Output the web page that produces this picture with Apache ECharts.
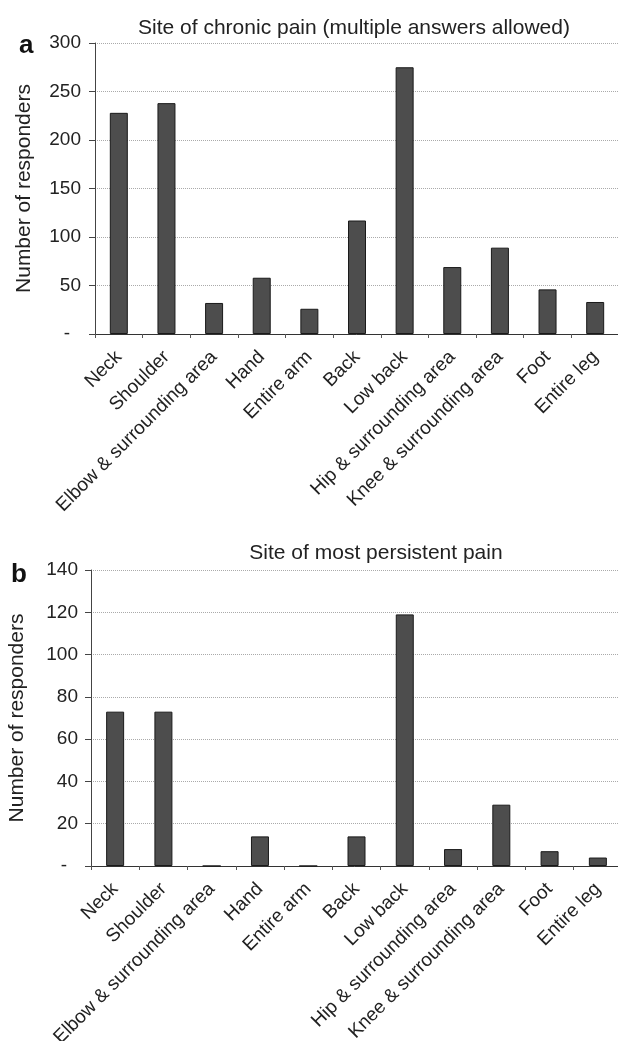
<!DOCTYPE html>
<html>
<head>
<meta charset="utf-8">
<script src="https://cdn.jsdelivr.net/npm/echarts@6/dist/echarts.min.js"></script>
<style>
  html, body { margin: 0; padding: 0; background: #fff; }
  #main { width: 618px; height: 1041px; }
</style>
</head>
<body>
<div id="main"></div>
<script>
var sites = ['Neck', 'Shoulder', 'Elbow & surrounding area', 'Hand', 'Entire arm', 'Back',
  'Low back', 'Hip & surrounding area', 'Knee & surrounding area', 'Foot', 'Entire leg'];
// panel a: multiple answers allowed
var chronicCounts = [228, 238, 32, 58, 26, 117, 275, 69, 89, 46, 33];
// panel b: site of most persistent pain
var persistentCounts = [73, 73, 0, 14, 0, 14, 119, 8, 29, 7, 4];
var chronicTicks = [0, 300, 50];     // min, max, interval
var persistentTicks = [0, 140, 20];

var font = 'Liberation Sans, Arial, sans-serif';
var myChart = echarts.init(document.getElementById('main'), null, { renderer: 'canvas' });

function xAxisFor(idx) {
  return {
    type: 'category',
    gridIndex: idx,
    data: sites,
    axisLine: { lineStyle: { color: '#333', width: 1 } },
    axisTick: { show: true, alignWithLabel: false, length: 4, lineStyle: { color: '#555' } },
    axisLabel: {
      interval: 0,
      rotate: 45,
      margin: 20,
      fontSize: 19,
      color: '#222',
      fontFamily: font
    }
  };
}

function yAxisFor(idx, ticks, gap, labelGap) {
  return {
    type: 'value',
    gridIndex: idx,
    min: ticks[0],
    max: ticks[1],
    interval: ticks[2],
    name: 'Number of responders',
    nameLocation: 'middle',
    nameGap: gap,
    nameTextStyle: { fontSize: 21, color: '#222', fontFamily: font },
    axisLine: { show: true, lineStyle: { color: '#444', width: 1 } },
    axisTick: { show: true, length: 6, lineStyle: { color: '#444' } },
    axisLabel: {
      fontSize: 19,
      color: '#222',
      margin: labelGap,
      fontFamily: font,
      formatter: function (v) { return v === 0 ? '{z|-}' : v; },
      rich: { z: { fontSize: 19, color: '#222', fontFamily: font, padding: [0, 11, 0, 0] } }
    },
    splitLine: { show: true, lineStyle: { color: '#aaa', type: 'dotted', width: 1 } }
  };
}

var barStyle = { color: '#4d4d4d', borderColor: '#1a1a1a', borderWidth: 1 };

var option = {
  backgroundColor: '#fff',
  animation: false,
  title: [
    {
      text: 'Site of chronic pain (multiple answers allowed)',
      left: 349, top: 13, textAlign: 'center',
      textStyle: { fontSize: 21, fontWeight: 'normal', color: '#222', fontFamily: font }
    },
    {
      text: 'Site of most persistent pain',
      left: 371, top: 538, textAlign: 'center',
      textStyle: { fontSize: 21, fontWeight: 'normal', color: '#222', fontFamily: font }
    },
    {
      text: 'a', left: 14, top: 28,
      textStyle: { fontSize: 26, fontWeight: 'bold', color: '#111', fontFamily: font }
    },
    {
      text: 'b', left: 6, top: 557,
      textStyle: { fontSize: 26, fontWeight: 'bold', color: '#111', fontFamily: font }
    }
  ],
  grid: [
    { left: 95, right: -1, top: 43, bottom: 707, outerBoundsMode: 'none' },
    { left: 91, right: -4, top: 570, bottom: 175, outerBoundsMode: 'none' }
  ],
  xAxis: [xAxisFor(0), xAxisFor(1)],
  yAxis: [yAxisFor(0, chronicTicks, 60, 14), yAxisFor(1, persistentTicks, 63, 13)],
  series: [
    {
      type: 'bar', xAxisIndex: 0, yAxisIndex: 0,
      data: chronicCounts, barWidth: 18, itemStyle: barStyle
    },
    {
      type: 'bar', xAxisIndex: 1, yAxisIndex: 1,
      data: persistentCounts, barWidth: 18, itemStyle: barStyle
    }
  ]
};
myChart.setOption(option);
</script>
</body>
</html>
